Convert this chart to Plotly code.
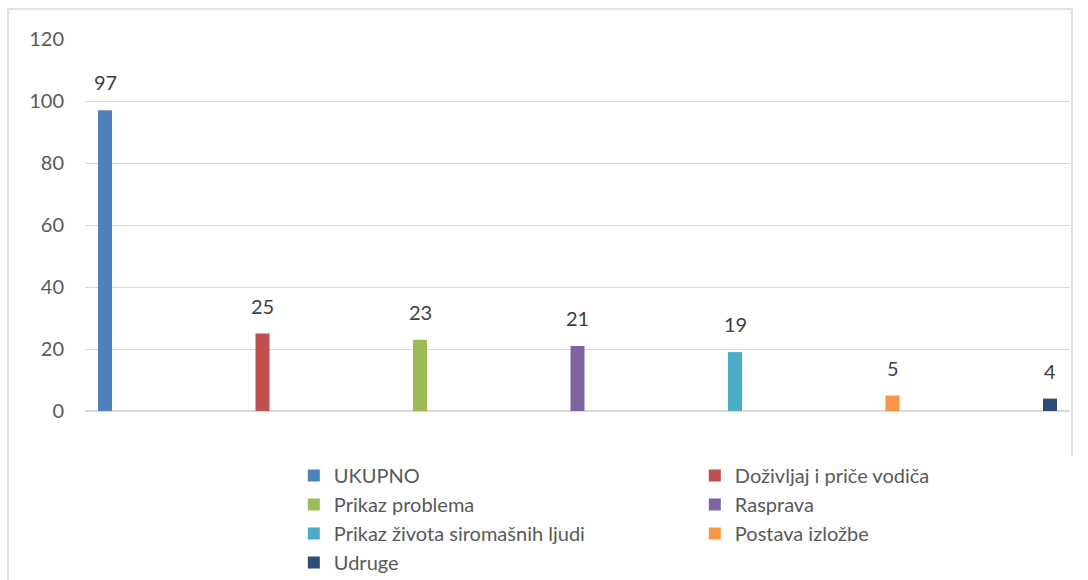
import plotly.graph_objects as go

series_names = ["UKUPNO", "Doživljaj i priče vodiča", "Prikaz problema", "Rasprava",
                "Prikaz života siromašnih ljudi", "Postava izložbe", "Udruge"]
series_values = [97, 25, 23, 21, 19, 5, 4]
series_colors = ["#4F81BD", "#C0504D", "#9BBB59", "#8064A2", "#4BACC6", "#F79646", "#2C4D75"]
y_ticks = [0, 20, 40, 60, 80, 100, 120]

FONT = "Lato, Carlito, Calibri, sans-serif"

fig = go.Figure()
for name, val, col in zip(series_names, series_values, series_colors):
    fig.add_trace(go.Bar(x=[name], y=[val], name=name, marker_color=col,
                         marker_line_width=0, width=0.089, hoverinfo="y"))
    fig.add_annotation(x=name, y=val, text=str(val), showarrow=False,
                       yanchor="bottom", yshift=14,
                       font=dict(family=FONT, size=20, color="#404040"))

fig.update_layout(
    width=1088, height=580,
    margin=dict(l=85, r=18, t=39, b=169, autoexpand=False),
    paper_bgcolor="white", plot_bgcolor="white",
    barmode="overlay",
    font=dict(family=FONT, size=20, color="#595959"),
    showlegend=True,
    legend=dict(orientation="h", x=0.212, xanchor="left", y=-0.121, yanchor="top",
                entrywidth=356, entrywidthmode="pixels", traceorder="normal",
                font=dict(family=FONT, size=20, color="#595959"),
                itemclick=False, itemdoubleclick=False),
    xaxis=dict(type="category", range=[-0.127, 6.127], showticklabels=False,
               showgrid=False, zeroline=False, showline=False, ticks=""),
    yaxis=dict(range=[0, 120], tickvals=y_ticks, showgrid=True, gridcolor="#D9D9D9",
               gridwidth=1, zeroline=True, zerolinecolor="#D9D9D9", zerolinewidth=1.5,
               showline=False, ticks="", ticklabelstandoff=20,
               tickfont=dict(family=FONT, size=20, color="#595959")),
    shapes=[dict(type="rect", xref="paper", yref="paper",
                 x0=(8 - 85) / 985, x1=(1072 - 85) / 985,
                 y0=(411 - 600) / 372, y1=(411 - 9) / 372,
                 line=dict(color="#D9D9D9", width=1.5), fillcolor="rgba(0,0,0,0)",
                 layer="below")],
)

fig.write_html("out.html", config={"displayModeBar": False},
               post_script="document.body.style.margin='0';document.body.style.overflow='hidden';")
